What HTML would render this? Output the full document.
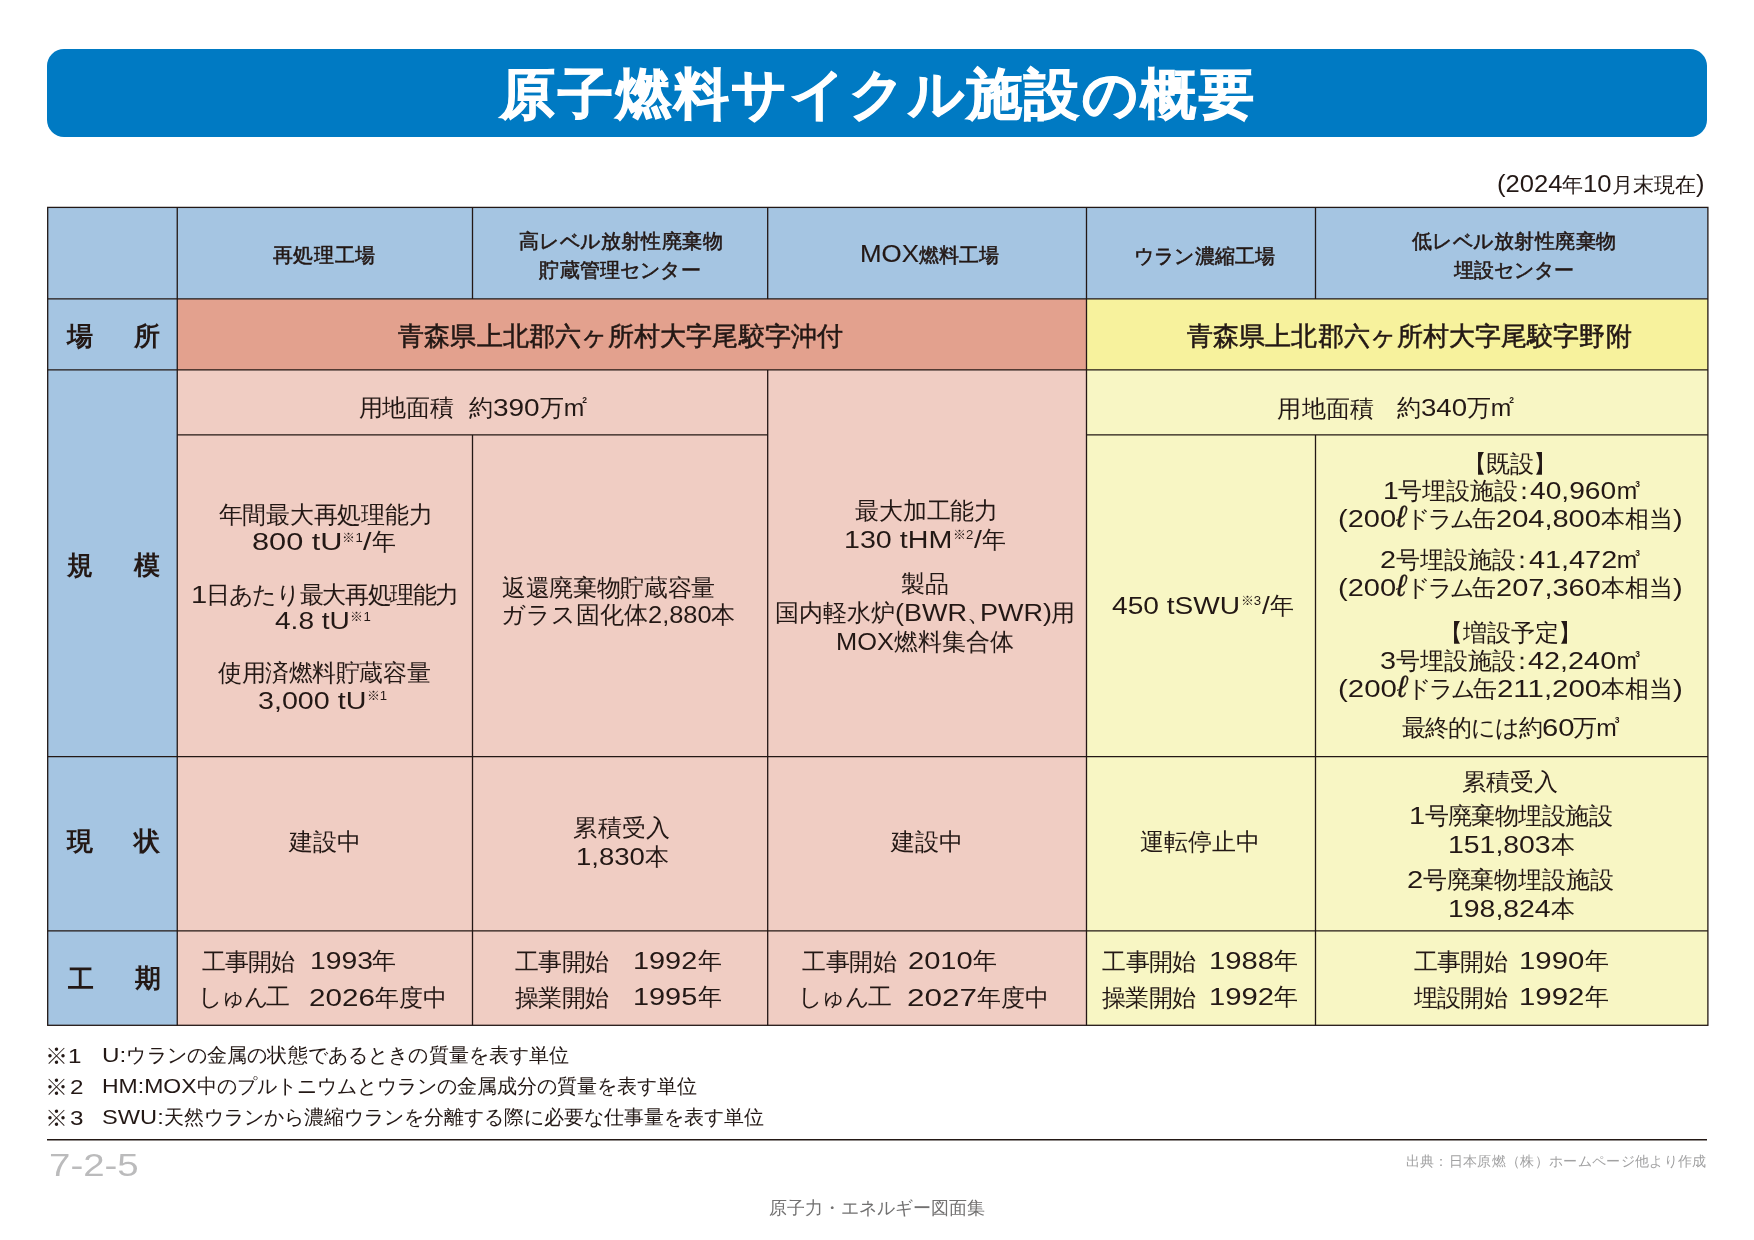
<!DOCTYPE html>
<html lang="ja">
<head>
<meta charset="utf-8">
<title>原子燃料サイクル施設の概要</title>
<style>
html,body{margin:0;padding:0}
body{width:1754px;height:1240px;position:relative;overflow:hidden;background:#fff;
  font-family:"Liberation Sans",sans-serif;color:#231815;will-change:transform}
.bg{position:absolute}
.blue{background:#a5c5e2}
.salmon{background:#e3a18e}
.pink{background:#f0cdc3}
.yellow{background:#f7f29d}
.lyellow{background:#f8f6c4}
#banner{position:absolute;left:47px;top:49px;width:1660px;height:88px;border-radius:17px;background:#007ac3}
#title{position:absolute;left:47px;top:59px;width:1660px;text-align:center;color:#fff;
  font-weight:bold;font-size:55px;line-height:70px;letter-spacing:2.8px;text-indent:2.8px;white-space:nowrap;-webkit-text-stroke:1.1px #fff}
#grid{position:absolute;left:0;top:0}
.t{position:absolute;white-space:nowrap;font-size:23.5px;line-height:28px}
.d{font-size:20.5px}
.h{font-size:20.3px;-webkit-text-stroke:.55px #231815}
.rl{font-size:26px;font-weight:bold}
.loc{font-size:26px;-webkit-text-stroke:.55px #231815}
.fn{font-size:20.2px}
.pg{font-size:31px;color:#bbbbbc}
.src{font-size:14.3px;color:#a1a1a2}
.bk{font-size:17.7px;color:#727171}
.k{margin:0 -.25em}
.kl{margin-right:-.5em}
.km{font-size:1.16em;line-height:0;position:relative;top:.5px}
.kt{letter-spacing:-3px}
.el{font-style:italic;font-size:1.3em;line-height:0;-webkit-text-stroke:.3px #231815}
.n{display:inline-block;transform-origin:0 50%;letter-spacing:0;line-height:1}
.d .n,.h .n{font-size:1.16em}
.h .n{-webkit-text-stroke:.15px #231815}
.b .n{font-size:1.035em}
sup{font-size:13.2px;line-height:0;vertical-align:baseline;position:relative;top:-8.4px;letter-spacing:0;margin:0 .5px}
.m{letter-spacing:0;font-size:1.05em;line-height:0}
.m i{font-style:normal;font-weight:bold;font-size:8.5px;line-height:0;position:relative;top:-12.5px;margin-left:-2px}
</style>
</head>
<body>
<!-- title banner -->
<div id="banner"></div>
<div id="title">原子燃料サイクル施設の概要</div>

<!-- cell backgrounds -->
<div class="bg blue" style="left:47px;top:207px;width:1661px;height:92px"></div>
<div class="bg blue" style="left:47px;top:207px;width:130px;height:818px"></div>
<div class="bg salmon" style="left:177px;top:299px;width:909px;height:71px"></div>
<div class="bg yellow" style="left:1086px;top:299px;width:622px;height:71px"></div>
<div class="bg pink" style="left:177px;top:370px;width:909px;height:655px"></div>
<div class="bg lyellow" style="left:1086px;top:370px;width:622px;height:655px"></div>

<!-- grid lines -->
<svg id="grid" width="1754" height="1240" viewBox="0 0 1754 1240" fill="none" stroke="#231815" stroke-width="1.3">
  <rect x="47.7" y="207.4" width="1660.2" height="817.9"/>
  <path d="M47.7 298.95H1707.9M47.7 369.95H1707.9M177.25 434.9H767.7M1086.5 434.9H1707.9M47.7 756.6H1707.9M47.7 930.8H1707.9"/>
  <path d="M177.25 207.4V1025.3M472.5 207.4V298.95M472.5 434.9V1025.3M767.7 207.4V298.95M767.7 369.95V1025.3M1086.5 207.4V1025.3M1315.5 207.4V298.95M1315.5 434.9V1025.3"/>
  <path d="M47 1139.7H1707" stroke-width="1.5"/>
</svg>

<!-- text -->
<div class="t d" style="left:1497px;top:171.4px"><span class="n" style="transform:scaleX(1.077);margin-right:4.68px">(2024</span>年<span class="n" style="transform:scaleX(1.077);margin-right:2.04px">10</span>月末現在<span class="n" style="transform:scaleX(1.077);margin-right:0.61px">)</span></div>
<div class="t h" style="left:272.9px;top:241.4px;letter-spacing:0.57px">再処理工場</div>
<div class="t h" style="left:519.1px;top:227.1px;letter-spacing:0.39px">高レベル放射性廃棄物</div>
<div class="t h" style="left:539.4px;top:255.5px;letter-spacing:0.17px">貯蔵管理センター</div>
<div class="t h" style="left:859.9px;top:241px"><span class="n" style="transform:scaleX(1.099);margin-right:5.31px">MOX</span>燃料工場</div>
<div class="t h" style="left:1133.9px;top:241.8px;letter-spacing:0.21px">ウラン濃縮工場</div>
<div class="t h" style="left:1412px;top:227.2px;letter-spacing:0.46px">低レベル放射性廃棄物</div>
<div class="t h" style="left:1454.4px;top:256.3px;letter-spacing:-0.12px">埋設センター</div>
<div class="t rl" style="left:67.3px;top:321.8px">場</div>
<div class="t rl" style="left:133.5px;top:322.4px">所</div>
<div class="t rl" style="left:67.4px;top:550.9px">規</div>
<div class="t rl" style="left:134.2px;top:550.8px">模</div>
<div class="t rl" style="left:67.3px;top:827.1px">現</div>
<div class="t rl" style="left:134.2px;top:827.3px">状</div>
<div class="t rl" style="left:68.1px;top:965.1px">工</div>
<div class="t rl" style="left:134.6px;top:964.2px">期</div>
<div class="t loc" style="left:398.3px;top:322.3px;letter-spacing:0.1px">青森県上北郡六ヶ所村大字尾駮字沖付</div>
<div class="t loc" style="left:1187.1px;top:322.4px;letter-spacing:0.09px">青森県上北郡六ヶ所村大字尾駮字野附</div>
<div class="t b" style="left:358.6px;top:394.2px;letter-spacing:-0.15px">用地面積</div>
<div class="t b" style="left:469px;top:393.7px">約<span class="n" style="transform:scaleX(1.15);margin-right:6.09px">390</span>万<span class="m">m<i>2</i></span></div>
<div class="t b" style="left:1277.3px;top:394.5px;letter-spacing:0.37px">用地面積</div>
<div class="t b" style="left:1396.7px;top:393.5px">約<span class="n" style="transform:scaleX(1.136);margin-right:5.52px">340</span>万<span class="m">m<i>2</i></span></div>
<div class="t b" style="left:218.5px;top:500.6px;letter-spacing:-0.24px">年間最大再処理能力</div>
<div class="t b" style="left:251.5px;top:528px"><span class="n" style="transform:scaleX(1.263);margin-right:18.84px">800 tU</span><sup>※1</sup><span class="n" style="transform:scaleX(1.263);margin-right:1.78px">/</span>年</div>
<div class="t b" style="left:191px;top:581px;letter-spacing:-1.34px"><span class="n" style="transform:scaleX(1.2);margin-right:1.37px">1</span>日あたり最大再処理能力</div>
<div class="t b" style="left:275.1px;top:607.4px"><span class="n" style="transform:scaleX(1.154);margin-right:9.99px">4.8 tU</span><sup>※1</sup></div>
<div class="t b" style="left:218px;top:659.4px;letter-spacing:-0.42px">使用済燃料貯蔵容量</div>
<div class="t b" style="left:257.9px;top:686.6px"><span class="n" style="transform:scaleX(1.179);margin-right:16.45px">3,000 tU</span><sup>※1</sup></div>
<div class="t b" style="left:502.2px;top:573.8px;letter-spacing:-0.36px">返還廃棄物貯蔵容量</div>
<div class="t b" style="left:500.9px;top:601.2px">ガラス固化体<span class="n" style="transform:scaleX(1.045);margin-right:2.74px">2,880</span>本</div>
<div class="t b" style="left:855.2px;top:497.3px;letter-spacing:-0.21px">最大加工能力</div>
<div class="t b" style="left:844.3px;top:525.8px"><span class="n" style="transform:scaleX(1.178);margin-right:16.36px">130 tHM</span><sup>※2</sup><span class="n" style="transform:scaleX(1.178);margin-right:1.21px">/</span>年</div>
<div class="t b" style="left:900.7px;top:569.9px;letter-spacing:0.57px">製品</div>
<div class="t b" style="left:775.3px;top:599.1px">国内軽水炉<span class="n" style="transform:scaleX(1.11);margin-right:7.13px">(BWR</span><span class="kl">、</span><span class="n" style="transform:scaleX(1.11);margin-right:7.13px">PWR)</span>用</div>
<div class="t b" style="left:835.8px;top:628px"><span class="n" style="transform:scaleX(1.045);margin-right:2.49px">MOX</span>燃料集合体</div>
<div class="t b" style="left:1112.3px;top:591.5px"><span class="n" style="transform:scaleX(1.156);margin-right:17.28px">450 tSWU</span><sup>※3</sup><span class="n" style="transform:scaleX(1.156);margin-right:1.06px">/</span>年</div>
<div class="t b" style="left:1462.8px;top:449.5px;letter-spacing:-0.51px">【既設】</div>
<div class="t b" style="left:1382.5px;top:477.1px"><span class="n" style="transform:scaleX(1.159);margin-right:2.15px">1</span>号埋設施設<span class="k">：</span><span class="n" style="transform:scaleX(1.159);margin-right:11.83px">40,960</span><span class="m">m<i>3</i></span></div>
<div class="t b" style="left:1338.3px;top:505.2px"><span class="n" style="transform:scaleX(1.193);margin-right:9.39px">(200</span><span class="el">ℓ</span><span class="kt">ドラム</span>缶<span class="n" style="transform:scaleX(1.193);margin-right:16.96px">204,800</span>本相当<span class="n" style="transform:scaleX(1.193);margin-right:1.57px">)</span></div>
<div class="t b" style="left:1380.3px;top:546.1px"><span class="n" style="transform:scaleX(1.186);margin-right:2.52px">2</span>号埋設施設<span class="k">：</span><span class="n" style="transform:scaleX(1.186);margin-right:13.83px">41,472</span><span class="m">m<i>3</i></span></div>
<div class="t b" style="left:1338.3px;top:574.2px"><span class="n" style="transform:scaleX(1.193);margin-right:9.39px">(200</span><span class="el">ℓ</span><span class="kt">ドラム</span>缶<span class="n" style="transform:scaleX(1.193);margin-right:16.96px">207,360</span>本相当<span class="n" style="transform:scaleX(1.193);margin-right:1.57px">)</span></div>
<div class="t b" style="left:1439.2px;top:618.9px;letter-spacing:-0.17px">【増設予定】</div>
<div class="t b" style="left:1380.1px;top:647.2px"><span class="n" style="transform:scaleX(1.186);margin-right:2.52px">3</span>号埋設施設<span class="k">：</span><span class="n" style="transform:scaleX(1.186);margin-right:13.83px">42,240</span><span class="m">m<i>3</i></span></div>
<div class="t b" style="left:1338.3px;top:675.2px"><span class="n" style="transform:scaleX(1.211);margin-right:10.27px">(200</span><span class="el">ℓ</span><span class="kt">ドラム</span>缶<span class="n" style="transform:scaleX(1.211);margin-right:18.16px">211,200</span>本相当<span class="n" style="transform:scaleX(1.211);margin-right:1.71px">)</span></div>
<div class="t b" style="left:1401.7px;top:713.5px;letter-spacing:-1px">最終的には約<span class="n" style="transform:scaleX(1.2);margin-right:4.41px">60</span>万<span class="m">m<i>3</i></span></div>
<div class="t b" style="left:289.2px;top:828px;letter-spacing:0.13px">建設中</div>
<div class="t b" style="left:573.4px;top:814px;letter-spacing:0.14px">累積受入</div>
<div class="t b" style="left:575.7px;top:842.7px"><span class="n" style="transform:scaleX(1.132);margin-right:8.03px">1,830</span>本</div>
<div class="t b" style="left:890.8px;top:828px;letter-spacing:-0.03px">建設中</div>
<div class="t b" style="left:1140.2px;top:827.6px;letter-spacing:-0.01px">運転停止中</div>
<div class="t b" style="left:1461.9px;top:768.2px;letter-spacing:-0.07px">累積受入</div>
<div class="t b" style="left:1408.8px;top:802px;letter-spacing:-0.52px"><span class="n" style="transform:scaleX(1.2);margin-right:2.19px">1</span>号廃棄物埋設施設</div>
<div class="t b" style="left:1448.1px;top:830.6px"><span class="n" style="transform:scaleX(1.168);margin-right:14.77px">151,803</span>本</div>
<div class="t b" style="left:1406.8px;top:865.9px;letter-spacing:-0.18px"><span class="n" style="transform:scaleX(1.2);margin-right:2.53px">2</span>号廃棄物埋設施設</div>
<div class="t b" style="left:1448.1px;top:894.6px"><span class="n" style="transform:scaleX(1.168);margin-right:14.77px">198,824</span>本</div>
<div class="t b" style="left:202.2px;top:947.7px;letter-spacing:-0.92px">工事開始</div>
<div class="t b" style="left:309.6px;top:947.3px"><span class="n" style="transform:scaleX(1.162);margin-right:8.76px">1993</span>年</div>
<div class="t b" style="left:197.8px;top:983.4px;letter-spacing:-2.11px">しゅん工</div>
<div class="t b" style="left:309.3px;top:984.4px"><span class="n" style="transform:scaleX(1.218);margin-right:11.79px">2026</span>年度中</div>
<div class="t b" style="left:515.2px;top:947.7px;letter-spacing:-0.75px">工事開始</div>
<div class="t b" style="left:633.4px;top:947.3px"><span class="n" style="transform:scaleX(1.187);margin-right:10.11px">1992</span>年</div>
<div class="t b" style="left:515px;top:983.9px;letter-spacing:-0.69px">操業開始</div>
<div class="t b" style="left:633.4px;top:983.3px"><span class="n" style="transform:scaleX(1.187);margin-right:10.11px">1995</span>年</div>
<div class="t b" style="left:802.2px;top:947.7px;letter-spacing:-0.45px">工事開始</div>
<div class="t b" style="left:908px;top:947.3px"><span class="n" style="transform:scaleX(1.197);margin-right:10.66px">2010</span>年</div>
<div class="t b" style="left:797.8px;top:983.4px;letter-spacing:-1.6px">しゅん工</div>
<div class="t b" style="left:907.2px;top:984.4px"><span class="n" style="transform:scaleX(1.295);margin-right:15.96px">2027</span>年度中</div>
<div class="t b" style="left:1102.2px;top:947.7px;letter-spacing:-0.67px">工事開始</div>
<div class="t b" style="left:1208.6px;top:947.3px"><span class="n" style="transform:scaleX(1.201);margin-right:10.87px">1988</span>年</div>
<div class="t b" style="left:1102px;top:983.9px;letter-spacing:-0.64px">操業開始</div>
<div class="t b" style="left:1208.6px;top:983.3px"><span class="n" style="transform:scaleX(1.201);margin-right:10.87px">1992</span>年</div>
<div class="t b" style="left:1413.7px;top:947.7px;letter-spacing:-0.62px">工事開始</div>
<div class="t b" style="left:1519.4px;top:947.3px"><span class="n" style="transform:scaleX(1.207);margin-right:11.2px">1990</span>年</div>
<div class="t b" style="left:1414.1px;top:983.9px;letter-spacing:-0.81px">埋設開始</div>
<div class="t b" style="left:1519.4px;top:983.3px"><span class="n" style="transform:scaleX(1.207);margin-right:11.2px">1992</span>年</div>
<div class="t fn" style="left:45.2px;top:1042.2px;letter-spacing:-0.2px"><span class="km">※</span><span class="n" style="transform:scaleX(1.2);margin-right:2.05px">1</span></div>
<div class="t fn" style="left:102.1px;top:1040.6px;letter-spacing:0.14px"><span class="n" style="transform:scaleX(1.2);margin-right:4.18px">U:</span>ウランの金属の状態であるときの質量を表す単位</div>
<div class="t fn" style="left:45.2px;top:1073.2px;letter-spacing:1.56px"><span class="km">※</span><span class="n" style="transform:scaleX(1.2);margin-right:3.81px">2</span></div>
<div class="t fn" style="left:102.1px;top:1071.5px"><span class="n" style="transform:scaleX(1.139);margin-right:11.54px">HM:MOX</span>中のプルトニウムとウランの金属成分の質量を表す単位</div>
<div class="t fn" style="left:45.2px;top:1104.3px;letter-spacing:1.56px"><span class="km">※</span><span class="n" style="transform:scaleX(1.2);margin-right:3.81px">3</span></div>
<div class="t fn" style="left:101.8px;top:1103.1px"><span class="n" style="transform:scaleX(1.171);margin-right:9.02px">SWU:</span>天然ウランから濃縮ウランを分離する際に必要な仕事量を表す単位</div>
<div class="t pg" style="left:49.1px;top:1150.1px"><span class="n" style="transform:scaleX(1.24);margin-right:17.37px">7-2-5</span></div>
<div class="t src" style="left:1405.6px;top:1146.5px;letter-spacing:0.34px">出典：日本原燃（株）ホームページ他より作成</div>
<div class="t bk" style="left:769.2px;top:1194px;letter-spacing:-0.04px">原子力・エネルギー図面集</div>
</body>
</html>
